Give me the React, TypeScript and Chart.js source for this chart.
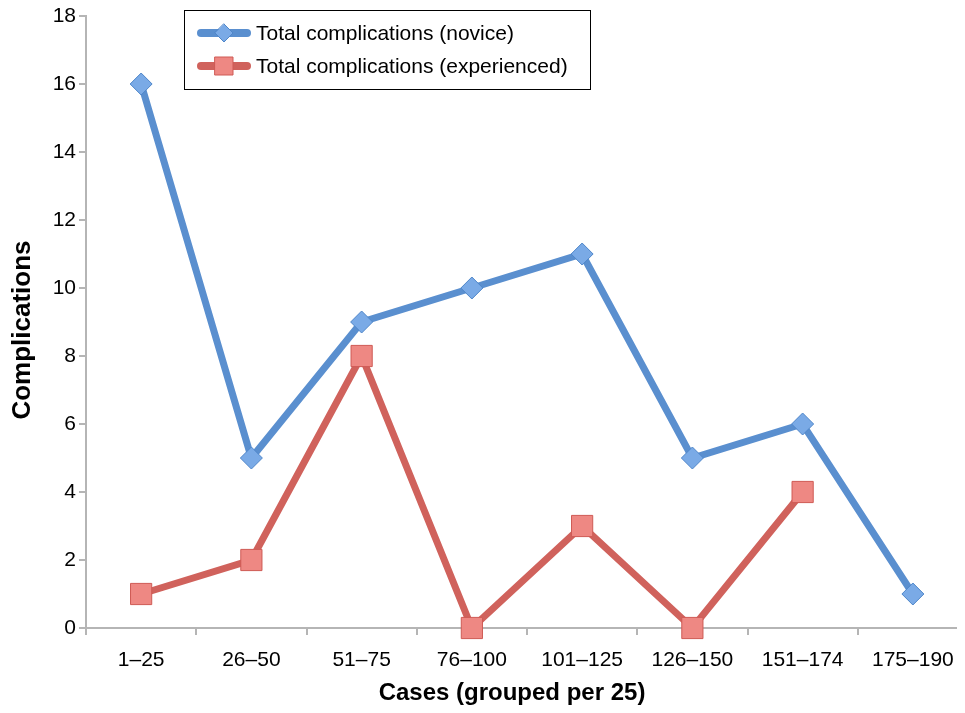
import React, { useEffect, useRef } from "react";
import { Chart, registerables } from "chart.js";

Chart.register(...registerables);

const categories = ["1–25", "26–50", "51–75", "76–100", "101–125", "126–150", "151–174", "175–190"];
const novice = [16, 5, 9, 10, 11, 5, 6, 1];
const experienced: (number | null)[] = [1, 2, 8, 0, 3, 0, 4, null];
const seriesNames = ["Total complications (novice)", "Total complications (experienced)"];
const yTicks = [0, 2, 4, 6, 8, 10, 12, 14, 16, 18];
const xTitle = "Cases (grouped per 25)";
const yTitle = "Complications";

const FONT = "'Liberation Sans', Arial, Helvetica, sans-serif";
const BLUE_LINE = "#5a8fcf";
const BLUE_PT = "#7aaae6";
const BLUE_PT_BORDER = "#4f86c9";
const RED_LINE = "#d0625c";
const RED_PT = "#ee8883";
const RED_PT_BORDER = "#cf5b55";

const overlayPlugin = {
  id: "overlay",
  afterDraw(chart: any) {
    const ctx = chart.ctx;
    ctx.save();
    ctx.fillStyle = "#000";
    ctx.textAlign = "center";
    ctx.textBaseline = "middle";
    ctx.font = `bold 24px ${FONT}`;
    ctx.fillText(xTitle, 504, 685);
    ctx.save();
    ctx.translate(15, 322);
    ctx.rotate(-Math.PI / 2);
    ctx.font = `bold 26px ${FONT}`;
    ctx.fillText(yTitle, 0, 0);
    ctx.restore();

    const x0 = 176, y0 = 2, w = 406, h = 79;
    ctx.fillStyle = "#fff";
    ctx.fillRect(x0, y0, w, h);
    ctx.strokeStyle = "#000";
    ctx.lineWidth = 1;
    ctx.strokeRect(x0 + 0.5, y0 + 0.5, w, h);
    const rows = [
      { y: 25, line: BLUE_LINE, pt: BLUE_PT, ptb: BLUE_PT_BORDER, shape: "diamond" },
      { y: 58, line: RED_LINE, pt: RED_PT, ptb: RED_PT_BORDER, shape: "square" },
    ];
    rows.forEach((r, i) => {
      ctx.strokeStyle = r.line;
      ctx.lineWidth = 8;
      ctx.lineCap = "round";
      ctx.beginPath();
      ctx.moveTo(x0 + 17, r.y);
      ctx.lineTo(x0 + 63, r.y);
      ctx.stroke();
      const cx = x0 + 40;
      ctx.fillStyle = r.pt;
      ctx.strokeStyle = r.ptb;
      ctx.lineWidth = 1;
      ctx.beginPath();
      if (r.shape === "diamond") {
        ctx.moveTo(cx, r.y - 9);
        ctx.lineTo(cx + 9, r.y);
        ctx.lineTo(cx, r.y + 9);
        ctx.lineTo(cx - 9, r.y);
        ctx.closePath();
      } else {
        ctx.rect(cx - 9, r.y - 9, 18, 18);
      }
      ctx.fill();
      ctx.stroke();
      ctx.fillStyle = "#000";
      ctx.font = `21px ${FONT}`;
      ctx.textBaseline = "middle";
      ctx.textAlign = "left";
      ctx.fillText(seriesNames[i], x0 + 72, r.y + 1);
    });
    ctx.restore();
  },
};

export default function App() {
  const ref = useRef<HTMLCanvasElement | null>(null);
  useEffect(() => {
    if (!ref.current) return;
    const chart = new Chart(ref.current, {
      type: "line",
      data: {
        labels: categories,
        datasets: [
          {
            label: seriesNames[0],
            data: novice,
            borderColor: BLUE_LINE,
            borderWidth: 7,
            pointStyle: "rectRot",
            pointRadius: 11,
            pointBackgroundColor: BLUE_PT,
            pointBorderColor: BLUE_PT_BORDER,
            pointBorderWidth: 1,
            tension: 0,
            clip: false,
          },
          {
            label: seriesNames[1],
            data: experienced,
            borderColor: RED_LINE,
            borderWidth: 7,
            pointStyle: "rect",
            pointRadius: 15,
            pointBackgroundColor: RED_PT,
            pointBorderColor: RED_PT_BORDER,
            pointBorderWidth: 1,
            tension: 0,
            spanGaps: false,
            clip: false,
          },
        ],
      },
      options: {
        responsive: false,
        animation: false,
        layout: { autoPadding: false, padding: { top: 8, right: 20, left: 0, bottom: 0 } },
        plugins: {
          legend: { display: false },
          tooltip: { enabled: false },
        },
        scales: {
          x: {
            type: "category",
            offset: true,
            grid: {
              display: true,
              offset: true,
              drawOnChartArea: false,
              drawTicks: true,
              tickLength: 7,
              color: "#b5b5b5",
              lineWidth: 2,
            },
            border: { display: true, color: "#b5b5b5", width: 2 },
            ticks: {
              color: "#000",
              font: { family: FONT, size: 21 },
              padding: 13,
              maxRotation: 0,
              autoSkip: false,
            },
            title: { display: false },
            afterFit(scale: any) {
              scale.height = 77;
              scale.paddingLeft = 0;
              scale.paddingRight = 0;
            },
          },
          y: {
            min: 0,
            max: 18,
            afterBuildTicks(scale: any) {
              scale.ticks = yTicks.map((v) => ({ value: v }));
            },
            grid: {
              display: true,
              drawOnChartArea: false,
              drawTicks: true,
              tickLength: 7,
              color: "#b5b5b5",
              lineWidth: 2,
            },
            border: { display: true, color: "#b5b5b5", width: 2 },
            ticks: {
              color: "#000",
              font: { family: FONT, size: 21, lineHeight: 0.6 },
              padding: 3,
            },
            title: { display: false },
            afterFit(scale: any) {
              scale.width = 78;
              scale.paddingTop = 0;
              scale.paddingBottom = 0;
            },
          },
        },
      },
      plugins: [overlayPlugin],
    } as any);
    return () => chart.destroy();
  }, []);
  return (
    <div style={{ width: 957, height: 697, overflow: "hidden", position: "relative" }}>
      <canvas ref={ref} width={980} height={697} style={{ display: "block" }} />
    </div>
  );
}
